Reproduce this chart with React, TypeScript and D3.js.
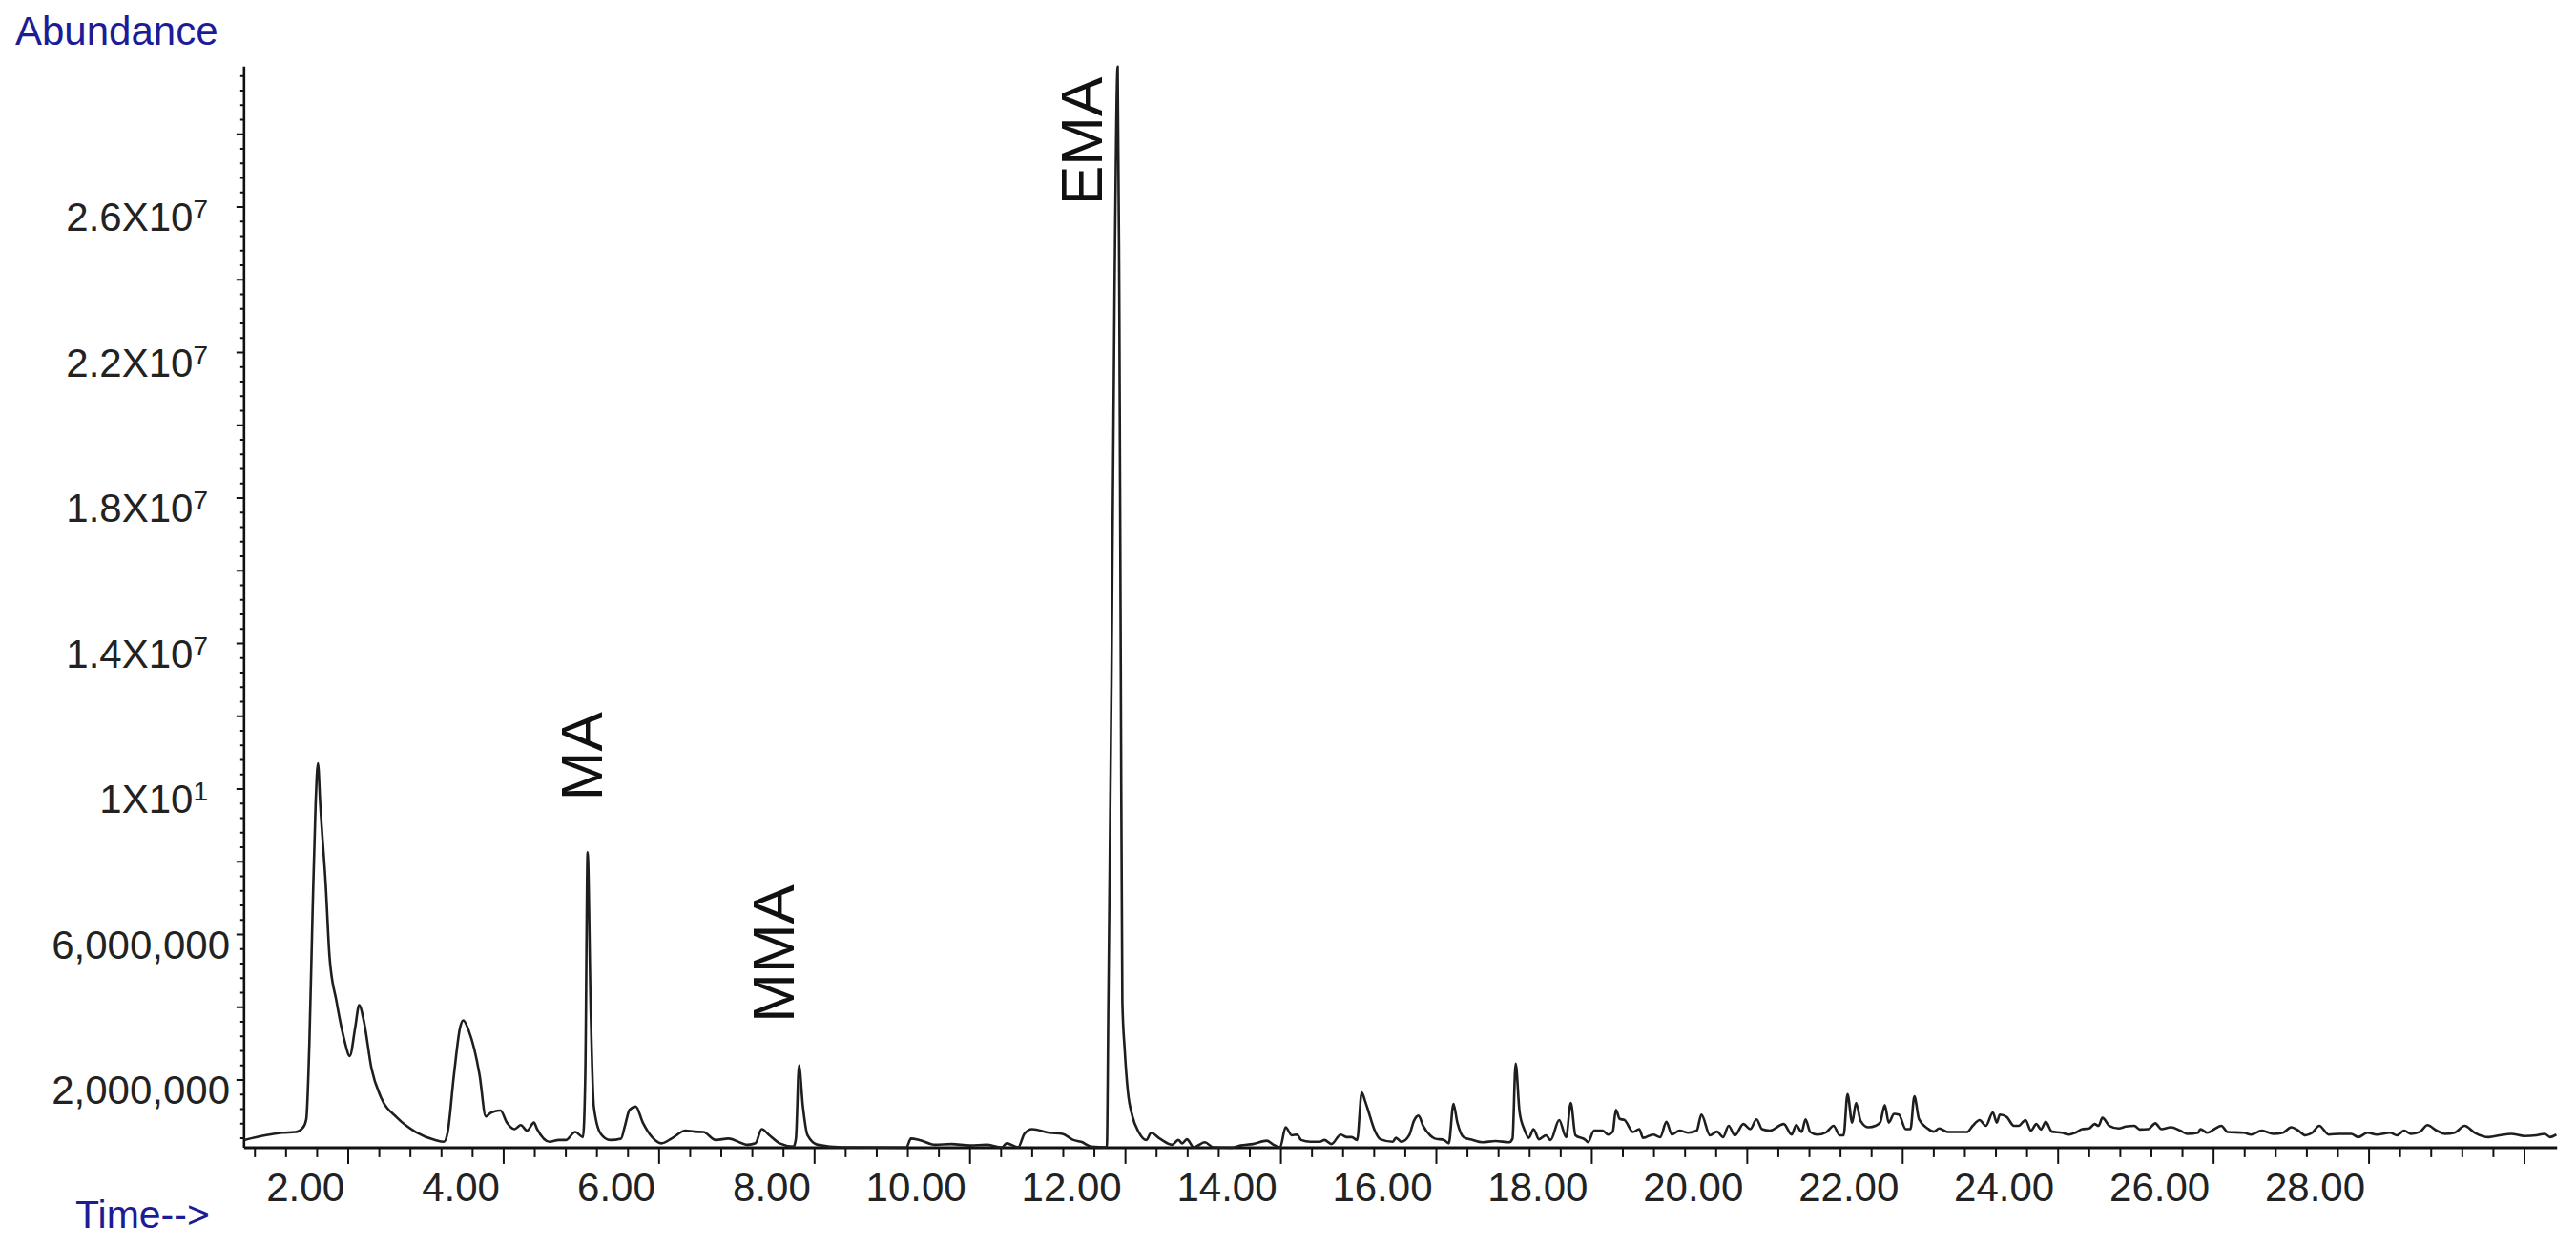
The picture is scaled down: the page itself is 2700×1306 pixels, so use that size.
import React from "react";
import * as d3 from "d3";

// Retention time (min), abundance (millions of counts)
const earlyTrace: [number, number][] = [
  [0.66,0.35],[1.15,0.55],[1.32,0.57],[1.42,0.70],[1.46,0.92],[1.50,3.0],[1.54,6.5],[1.58,9.57],[1.61,10.71],[1.64,9.57],[1.71,7.38],[1.76,5.38],[1.85,4.15],[1.95,3.10],[2.02,2.66],[2.09,3.45],[2.14,4.06],[2.20,3.63],[2.30,2.31],[2.42,1.53],[2.63,0.96],[2.87,0.57],[3.12,0.35],[3.23,0.30],[3.28,0.57],[3.36,2.14],[3.44,3.45],[3.48,3.64],[3.55,3.36],[3.69,2.14],[3.77,1.0],[3.83,1.09],[3.87,1.13],[3.96,1.16],[4.04,0.83],[4.14,0.65],[4.22,0.76],[4.30,0.61],[4.39,0.83],[4.43,0.65],[4.59,0.30],[4.71,0.35],[4.80,0.35],[4.92,0.57],[5.02,0.43],[5.05,2.14],[5.08,8.26],[5.12,3.89],[5.16,1.27],[5.25,0.52],[5.37,0.35],[5.51,0.39]
];
const midTrace: [number, number][] = [
  [5.56,0.74],[5.62,1.18],[5.70,1.27],[5.79,0.83],[5.91,0.43],[6.03,0.26],[6.16,0.39],[6.34,0.61],[6.45,0.58],[6.57,0.57],[6.73,0.35],[6.89,0.39],[7.14,0.22],[7.24,0.26],[7.32,0.65],[7.42,0.48],[7.55,0.26],[7.73,0.17],[7.76,0.39],[7.80,2.40],[7.85,1.27],[7.91,0.48],[8.04,0.22],[8.36,0.15],[9.18,0.13],[9.24,0.39],[9.35,0.35],[9.55,0.22],[9.76,0.24],[10.0,0.20],[10.21,0.22],[10.41,0.15],[10.47,0.26],[10.62,0.15],[10.70,0.52],[10.80,0.65],[11.02,0.55],[11.19,0.52],[11.33,0.35],[11.43,0.30],[11.56,0.17]
];
const emaTrace: [number, number][] = [
  [11.76,0.15],[11.78,4.15],[11.82,12.9],[11.86,23.8],[11.90,29.86],[11.92,23.8],[11.94,13.3],[11.96,4.15],[11.99,2.84],[12.03,1.70],[12.09,1.0],[12.17,0.57],[12.27,0.35]
];
const lateTrace: [number, number][] = [
  [12.33,0.55],[12.44,0.39],[12.60,0.22],[12.68,0.35],[12.73,0.26],[12.79,0.37],[12.88,0.15],[13.02,0.29],[13.13,0.15],[13.36,0.13],[13.48,0.20],[13.64,0.24],[13.82,0.33],[13.89,0.24],[13.99,0.15],[14.06,0.70],[14.14,0.48],[14.21,0.50],[14.26,0.35],[14.38,0.30],[14.50,0.30],[14.56,0.35],[14.65,0.24],[14.77,0.50],[14.85,0.43],[14.91,0.43],[14.98,0.35],[15.04,1.66],[15.08,1.44],[15.12,1.18],[15.20,0.65],[15.28,0.37],[15.44,0.30],[15.48,0.41],[15.55,0.30],[15.65,0.48],[15.71,0.87],[15.77,1.02],[15.83,0.74],[15.92,0.48],[15.98,0.39],[16.10,0.35],[16.16,0.26],[16.22,1.34],[16.27,0.83],[16.35,0.43],[16.47,0.35],[16.59,0.29],[16.76,0.32],[16.94,0.29],[16.98,0.39],[17.02,2.45],[17.07,1.13],[17.13,0.65],[17.19,0.41],[17.25,0.65],[17.32,0.37],[17.41,0.48],[17.47,0.35],[17.58,0.90],[17.67,0.43],[17.73,1.37],[17.79,0.48],[17.92,0.35],[17.95,0.29],[18.03,0.61],[18.14,0.61],[18.21,0.50],[18.27,0.58],[18.31,1.18],[18.36,0.93],[18.42,0.90],[18.53,0.57],[18.61,0.65],[18.66,0.41],[18.79,0.50],[18.88,0.43],[18.96,0.85],[19.03,0.50],[19.13,0.61],[19.24,0.55],[19.35,0.61],[19.41,1.05],[19.52,0.48],[19.61,0.58],[19.69,0.43],[19.76,0.74],[19.84,0.48],[19.95,0.79],[20.04,0.65],[20.12,0.92],[20.19,0.65],[20.29,0.61],[20.47,0.79],[20.57,0.50],[20.63,0.76],[20.70,0.57],[20.75,0.92],[20.81,0.57],[20.90,0.50],[21.02,0.57],[21.11,0.74],[21.19,0.48],[21.24,0.48],[21.29,1.61],[21.35,0.83],[21.40,1.37],[21.46,0.87],[21.56,0.70],[21.65,0.74],[21.71,0.83],[21.77,1.31],[21.82,0.83],[21.89,1.07],[21.95,1.05],[22.04,0.65],[22.10,0.65],[22.15,1.55],[22.21,0.92],[22.32,0.67],[22.40,0.58],[22.47,0.67],[22.58,0.57],[22.83,0.57],[22.90,0.74],[22.99,0.90],[23.07,0.74],[23.16,1.11],[23.21,0.83],[23.25,1.05],[23.34,0.98],[23.43,0.74],[23.49,0.74],[23.58,0.90],[23.65,0.61],[23.72,0.79],[23.78,0.64],[23.84,0.85],[23.92,0.58],[24.05,0.55],[24.14,0.50],[24.22,0.55],[24.31,0.65],[24.40,0.67],[24.47,0.79],[24.52,0.74],[24.57,0.96],[24.66,0.74],[24.78,0.67],[24.87,0.72],[24.98,0.74],[25.05,0.64],[25.16,0.65],[25.25,0.81],[25.33,0.65],[25.45,0.70],[25.57,0.61],[25.66,0.52],[25.80,0.55],[25.83,0.65],[25.92,0.55],[26.01,0.65],[26.10,0.74],[26.18,0.57],[26.39,0.55],[26.48,0.50],[26.62,0.61],[26.77,0.52],[26.89,0.55],[27.00,0.70],[27.09,0.61],[27.18,0.48],[27.27,0.55],[27.36,0.74],[27.48,0.50],[27.62,0.52],[27.77,0.52],[27.86,0.43],[27.98,0.55],[28.10,0.50],[28.27,0.55],[28.36,0.48],[28.45,0.61],[28.54,0.52],[28.66,0.58],[28.75,0.76],[28.87,0.61],[28.98,0.52],[29.10,0.55],[29.23,0.74],[29.36,0.55],[29.54,0.43],[29.68,0.48],[29.83,0.52],[30.00,0.46],[30.15,0.48],[30.26,0.52],[30.33,0.43],[30.41,0.50]
];

// Peak annotations
const peakNames = ["MA", "MMA", "EMA"];
const peakLabelTime = [5.27, 7.73, 11.70];
const peakLabelBase = [9.68, 3.58, 26.05];

// Axis tick labels
const xLabelTimes = [2, 4, 6, 8, 10, 12, 14, 16, 18, 20, 22, 24, 26, 28];
const xMajorTimes = [2, 4, 6, 8, 10, 12, 14, 16, 18, 20, 22, 24, 26, 28, 30];
const yLabelValues = [2e6, 6e6, 10e6, 14e6, 18e6, 22e6, 26e6];
const yLabelMain = ["2,000,000", "6,000,000", "1X10", "1.4X10", "1.8X10", "2.2X10", "2.6X10"];
const yLabelSup = ["", "", "1", "7", "7", "7", "7"];

const FONT = "'Liberation Sans', Arial, Helvetica, sans-serif";
const BLUE = "#1c1c96";

export default function App() {
  const W = 2700, H = 1306;
  const x = d3.scaleLinear().domain([2, 30]).range([365, 2646]);
  const y = d3.scaleLinear().domain([0, 26e6]).range([1208.25, 217]);
  const tMin = 0.66, tMax = 30.42;
  const vMin = 0.14e6, vMax = 29.86e6;
  const x0 = x(tMin), x1 = x(tMax), yBase = y(vMin), yTop = y(vMax);

  const trace = [...earlyTrace, ...midTrace, ...emaTrace, ...lateTrace].map(
    ([t, v]) => [t, v * 1e6] as [number, number]
  );
  const line = d3
    .line<[number, number]>()
    .x((d) => x(d[0]))
    .y((d) => y(Math.max(d[1], vMin)))
    .curve(d3.curveMonotoneX);

  const xMinor = d3.range(0.8, 30.01, 0.4).filter((t) => Math.abs(t / 2 - Math.round(t / 2)) > 0.01);
  const yMinor = d3.range(0.4e6, 29.7e6, 0.4e6).filter((v) => Math.abs(v / 2e6 - Math.round(v / 2e6)) > 0.01);
  const yMajor = d3.range(2e6, 29e6, 2e6);

  return (
    <svg
      width={W}
      height={H}
      style={{ position: "absolute", left: 0, top: 0, display: "block", background: "#fff" }}
      fontFamily={FONT}
    >
      <rect x={0} y={0} width={W} height={H} fill="#fff" />
      {/* axis titles */}
      <text x={16} y={47} fontSize={42} fill={BLUE}>Abundance</text>
      <text x={79} y={1287} fontSize={41} fill={BLUE}>Time--&gt;</text>

      {/* y axis */}
      <line x1={x0} x2={x0} y1={yTop} y2={yBase} stroke="#111" strokeWidth={2.6} />
      {yMinor.map((v, i) => (
        <line key={"ym" + i} x1={x0 - 4} x2={x0} y1={y(v)} y2={y(v)} stroke="#111" strokeWidth={2} />
      ))}
      {yMajor.map((v, i) => (
        <line key={"yM" + i} x1={x0 - 8} x2={x0} y1={y(v)} y2={y(v)} stroke="#111" strokeWidth={2} />
      ))}
      {yLabelValues.map((v, i) => (
        <text
          key={"yl" + i}
          x={yLabelSup[i] ? 218 : 241}
          y={y(v) + 25}
          fontSize={42}
          fill="#222"
          textAnchor="end"
        >
          {yLabelMain[i]}
          {yLabelSup[i] ? (
            <tspan fontSize={28} dy={-13}>{yLabelSup[i]}</tspan>
          ) : null}
        </text>
      ))}

      {/* x axis */}
      <line x1={x0} x2={x1} y1={yBase} y2={yBase} stroke="#111" strokeWidth={3} />
      {xMinor.map((t, i) => (
        <line key={"xm" + i} x1={x(t)} x2={x(t)} y1={yBase} y2={yBase + 10} stroke="#111" strokeWidth={2} />
      ))}
      {xMajorTimes.map((t, i) => (
        <line key={"xM" + i} x1={x(t)} x2={x(t)} y1={yBase} y2={yBase + 17} stroke="#111" strokeWidth={2} />
      ))}
      {xLabelTimes.map((t, i) => (
        <text key={"xl" + i} x={x(t) - 4} y={1259} fontSize={42} fill="#222" textAnchor="end">
          {t.toFixed(2)}
        </text>
      ))}

      {/* chromatogram */}
      <path d={line(trace) || ""} fill="none" stroke="#1e1e1e" strokeWidth={2.6} strokeLinejoin="round" />

      {/* peak labels */}
      {peakNames.map((name, i) => {
        const px = x(peakLabelTime[i]);
        const py = y(peakLabelBase[i] * 1e6);
        return (
          <text
            key={name}
            transform={`translate(${px},${py}) rotate(-90)`}
            fontSize={62}
            fill="#111"
          >
            {name}
          </text>
        );
      })}
    </svg>
  );
}
